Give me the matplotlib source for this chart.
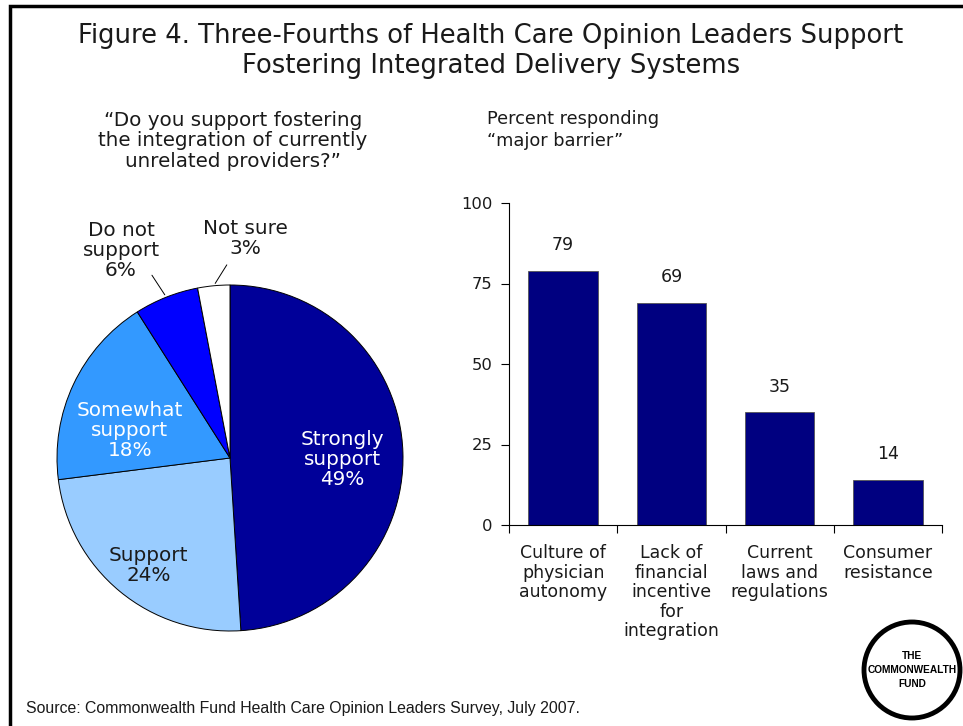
import numpy as np
import matplotlib.pyplot as plt
from matplotlib.patches import Rectangle, Ellipse

# pie data
pie_labels = ["Strongly\nsupport", "Support", "Somewhat\nsupport", "Do not\nsupport", "Not sure"]
pie_values = [49, 24, 18, 6, 3]
pie_colors = ["#000099", "#99CCFF", "#3399FF", "#0000FF", "#FFFFFF"]

# bar data
bar_labels = ["Culture of\nphysician\nautonomy", "Lack of\nfinancial\nincentive\nfor\nintegration",
              "Current\nlaws and\nregulations", "Consumer\nresistance"]
bar_values = [79, 69, 35, 14]
y_ticks = [0, 25, 50, 75, 100]

W, H = 963, 726
fig = plt.figure(figsize=(W / 100, H / 100), dpi=100)
plt.rcParams['font.family'] = 'DejaVu Sans'

# outer frame
fig.patches.append(Rectangle((9.5 / W, -0.1), 1.2, (H - 5.5) / H + 0.1, transform=fig.transFigure,
                             fill=False, lw=2.5, ec="black"))

fig.text(491 / W, 1 - 36 / H, "Figure 4. Three-Fourths of Health Care Opinion Leaders Support",
         ha="center", va="center", fontsize=18.6, color="#1a1a1a")
fig.text(491 / W, 1 - 66 / H, "Fostering Integrated Delivery Systems",
         ha="center", va="center", fontsize=18.6, color="#1a1a1a")

# ---- pie ----
cx, cy, r = 230, 458, 173
pax = fig.add_axes([(cx - r) / W, (H - cy - r) / H, 2 * r / W, 2 * r / H])
wedges, _ = pax.pie(pie_values, colors=pie_colors, startangle=90, counterclock=False,
                    wedgeprops=dict(edgecolor="black", linewidth=0.7))
pax.set_xlim(-1, 1)
pax.set_ylim(-1, 1)
pax.set_aspect("equal")
pax.axis("off")

fig.text(233 / W, 1 - 141 / H,
         "\u201cDo you support fostering\nthe integration of currently\nunrelated providers?\u201d",
         ha="center", va="center", fontsize=14.3, linespacing=1.12, color="#1a1a1a")

inner_pos = {0: (0.65, -0.01), 1: (-0.47, -0.62), 2: (-0.58, 0.16)}
inner_col = {0: "white", 1: "#1a1a1a", 2: "white"}
for i, (lab, v) in enumerate(zip(pie_labels, pie_values)):
    txt = f"{lab}\n{v}%"
    if i in inner_pos:
        pax.text(*inner_pos[i], txt, ha="center", va="center", fontsize=14.4,
                 color=inner_col[i], linespacing=1.08)

outer_pos = {3: (-0.63, 1.20), 4: (0.09, 1.27)}
line_end = {3: (-0.46, 1.07), 4: (-0.01, 1.13)}
for i in (3, 4):
    w = wedges[i]
    th = np.deg2rad((w.theta1 + w.theta2) / 2)
    xy = (np.cos(th), np.sin(th))
    pax.annotate("", xy=xy, xytext=line_end[i],
                 arrowprops=dict(arrowstyle="-", lw=0.7, color="black"), annotation_clip=False)
    pax.text(*outer_pos[i], f"{pie_labels[i]}\n{pie_values[i]}%", ha="center", va="center",
             fontsize=14.4, color="#1a1a1a", linespacing=1.08, clip_on=False)

# ---- bars ----
x0, x1, y0, y1 = 509, 942, 525, 203
bax = fig.add_axes([x0 / W, (H - y0) / H, (x1 - x0) / W, (y0 - y1) / H])
xs = np.arange(len(bar_values))
bax.bar(xs, bar_values, width=0.64, color="#000080", edgecolor="#555555", linewidth=0.6)
bax.set_xlim(-0.5, len(bar_values) - 0.5)
bax.set_ylim(0, 100)
for s in ("top", "right"):
    bax.spines[s].set_visible(False)
bax.set_yticks(y_ticks)
bax.tick_params(axis="y", direction="out", length=6, pad=6, labelsize=11.8, labelcolor="#1a1a1a")
bax.set_xticks(np.arange(-0.5, len(bar_values)))
bax.set_xticklabels([])
bax.tick_params(axis="x", which="major", direction="out", length=6)
bax.set_xticks(xs, minor=True)
bax.set_xticklabels(bar_labels, minor=True, fontsize=12.5, color="#1a1a1a", linespacing=1.1, va="top")
bax.tick_params(axis="x", which="minor", length=0, pad=14)
for x, v in zip(xs, bar_values):
    bax.text(x, v + 8, str(v), ha="center", va="center", fontsize=12.5, color="#1a1a1a")

fig.text(487 / W, 1 - 130 / H, "Percent responding\n\u201cmajor barrier\u201d", ha="left", va="center",
         fontsize=12.8, linespacing=1.25, color="#1a1a1a")

# logo
fig.patches.append(Ellipse((912 / W, 1 - 670 / H), 96 / W, 96 / H, transform=fig.transFigure,
                           fill=False, lw=3.5, ec="black"))
fig.text(912 / W, 1 - 670 / H, "THE\nCOMMONWEALTH\nFUND", ha="center", va="center",
         fontsize=7.3, fontweight="bold", linespacing=1.45, family="Liberation Sans")

fig.text(26 / W, 1 - 708 / H, "Source: Commonwealth Fund Health Care Opinion Leaders Survey, July 2007.",
         ha="left", va="center", fontsize=11.4, family="Liberation Sans", color="#1a1a1a")

fig.savefig("out.png", dpi=100)
